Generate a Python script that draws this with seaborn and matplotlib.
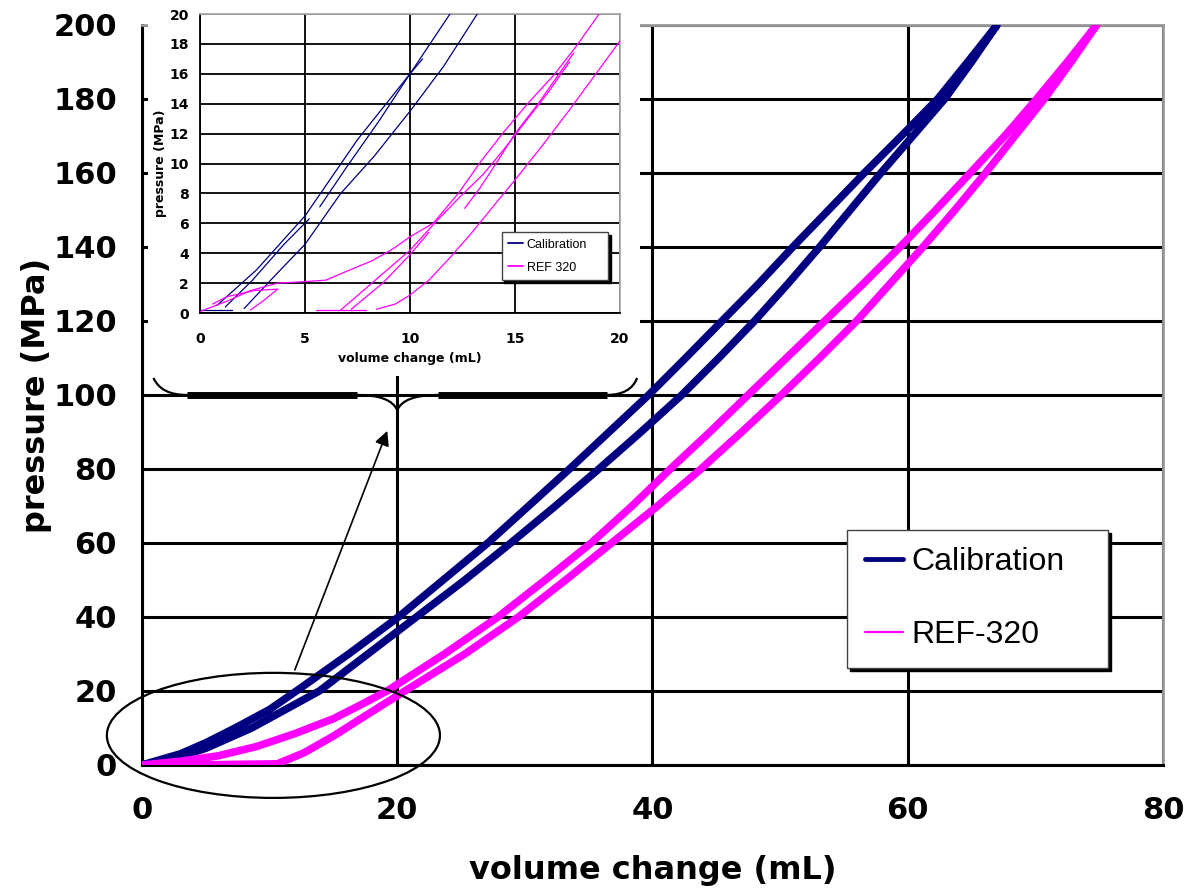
import matplotlib
matplotlib.use("Agg")
import pandas as pd
import matplotlib.pyplot as plt
import seaborn as sns
from matplotlib.patches import Ellipse, Rectangle, PathPatch
from matplotlib.path import Path
from matplotlib.lines import Line2D

# main chart: each loop goes up the loading branch and back down the unloading one
cal_x = [0, 3, 5, 7.3, 10, 12.1, 16.2, 20.1, 23.6, 27.1, 30.3, 33.5, 36.6, 39.7, 42.6, 45.45,
         48.3, 51.0, 53.8, 56.6, 59.5, 62.35, 64.7, 67.0,
         65.0, 62.9, 60.4, 57.9, 55.5, 53.1, 50.6, 48.0, 45.2, 42.3, 39.1, 35.8, 32.4, 28.9,
         25.3, 21.5, 17.7, 13.9, 8.6, 5, 2, 0]
cal_y = [0, 3, 6, 10, 15, 20, 30, 40, 50, 60, 70, 80, 90, 100, 110, 120,
         130, 140, 150, 160, 170, 180, 190, 200,
         190, 180, 170, 160, 150, 140, 130, 120, 110, 100, 90, 80, 70, 60,
         50, 40, 30, 20, 10, 4.5, 1.2, 0]

ref_x = [0, 3, 6, 9, 12, 15, 17, 19.2, 23.7, 27.9, 31.6, 35.2, 38.4, 41.4, 44.5, 47.5,
         50.5, 53.5, 56.5, 59.4, 62.2, 64.9, 67.6, 70.1, 72.5, 74.8,
         72.8, 70.7, 68.4, 66.1, 63.7, 61.2, 58.6, 56.0, 53.1, 50.1, 47.0, 43.8, 40.4, 36.8,
         33.2, 29.5, 25.3, 20.6, 17.6, 15.0, 12.7, 10.6, 8, 4, 0]
ref_y = [0, 1, 2.5, 5, 8.5, 12.5, 16, 20, 30, 40, 50, 60, 70, 80, 90, 100,
         110, 120, 130, 140, 150, 160, 170, 180, 190, 200,
         190, 180, 170, 160, 150, 140, 130, 120, 110, 100, 90, 80, 70, 60,
         50, 40, 30, 20, 13.5, 7.8, 3.3, 0.3, 0.2, 0, 0]

# inset (zoom on 0-20 / 0-20): separate strands
ins_cal = {
    "a": ([0.8, 2.7, 5.0, 7.5, 10.0, 11.9], [0.5, 2.9, 6.5, 11.6, 16.0, 20.0]),
    "b": ([2.1, 3.5, 5.0, 6.7, 8.3, 10.0, 11.6, 13.2], [0.3, 2.4, 4.6, 8.0, 10.5, 13.5, 16.5, 20.0]),
    "c": ([5.7, 7.0, 8.5, 10.0, 10.6], [7.1, 9.8, 12.8, 16.0, 17.0]),
    "d": ([1.2, 2.5, 4.0, 5.2], [0.4, 2.2, 4.6, 6.3]),
    "e": ([0.0, 1.5], [0.2, 0.2]),
}
ins_ref = {
    "m1": ([0.0, 1.3, 2.4, 3.7, 5.0, 6.0, 7.0, 8.2, 9.2, 10.0, 11.1, 12.3, 13.3, 14.4, 15.6, 16.9, 18.0, 19.0],
           [0.1, 0.8, 1.5, 2.0, 2.1, 2.2, 2.8, 3.5, 4.3, 5.1, 6.0, 8.0, 10.0, 12.0, 14.0, 16.0, 18.0, 20.0]),
    "m2": ([17.8, 17.1, 16.1, 15.0, 14.1, 13.3, 12.6], [17.4, 16.0, 14.0, 12.0, 10.0, 8.3, 7.0]),
    "m3": ([6.7, 8.1, 10.0, 11.3, 12.4, 13.5, 14.5, 15.5, 16.6, 17.6],
           [0.2, 1.9, 4.2, 6.2, 7.8, 9.3, 11.0, 12.8, 14.8, 16.8]),
    "m3b": ([7.2, 8.7, 10.0, 10.9], [0.25, 2.0, 3.9, 5.4]),
    "m4": ([8.4, 9.3, 10.0, 10.9, 11.9, 12.9, 14.0, 15.0, 16.3, 17.6, 18.8, 20.0],
           [0.25, 0.6, 1.2, 2.2, 3.7, 5.3, 7.2, 8.9, 11.2, 13.6, 15.9, 18.2]),
    "m5": ([5.5, 7.9], [0.18, 0.18]),
    "m6": ([2.4, 3.0, 3.7, 2.6, 1.3, 0.6], [0.2, 0.8, 1.6, 1.5, 1.1, 0.6]),
}

NAVY = "#000080"
MAGENTA = "#FF00FF"
palette = {"Calibration": NAVY, "REF-320": MAGENTA}


def strands_df(strands, name):
    rows = []
    for key, (xs, ys) in strands.items():
        for x, y in zip(xs, ys):
            rows.append({"x": x, "y": y, "series": name, "strand": name + key})
    return pd.DataFrame(rows)


main_df = pd.concat([
    pd.DataFrame({"x": cal_x, "y": cal_y, "series": "Calibration", "strand": "cal"}),
    pd.DataFrame({"x": ref_x, "y": ref_y, "series": "REF-320", "strand": "ref"}),
])
inset_df = pd.concat([strands_df(ins_cal, "Calibration"), strands_df(ins_ref, "REF-320")])

sns.set_style("white")
plt.rcParams["font.family"] = ["DejaVu Sans"]
plt.rcParams["text.color"] = "black"
plt.rcParams["axes.labelcolor"] = "black"
plt.rcParams["xtick.color"] = "black"
plt.rcParams["ytick.color"] = "black"

fig = plt.figure(figsize=(11.88, 8.92), dpi=100)
ax = fig.add_axes([0.1195, 0.1424, 0.8594, 0.8296])

sns.lineplot(data=main_df, x="x", y="y", hue="series", units="strand", estimator=None,
             sort=False, palette=palette, lw=5.5, legend=False, ax=ax, zorder=3)

ax.set_xlim(0, 80)
ax.set_ylim(0, 200)
ax.set_xticks(range(0, 81, 20))
ax.set_yticks(range(0, 201, 20))
ax.set_axisbelow(True)
ax.grid(True, color="black", lw=2.2)
ax.tick_params(axis="both", direction="out", length=6, width=2, color="black",
               labelsize=22, pad=12)
ax.tick_params(axis="x", pad=16)
for lab in ax.get_xticklabels() + ax.get_yticklabels():
    lab.set_fontweight("bold")
for side in ("left", "bottom"):
    ax.spines[side].set_color("black")
    ax.spines[side].set_linewidth(2.2)
for side in ("top", "right"):
    ax.spines[side].set_color("#999999")
    ax.spines[side].set_linewidth(2)
ax.set_xlabel("volume change (mL)", fontsize=23, fontweight="bold")
ax.set_ylabel("pressure (MPa)", fontsize=23, fontweight="bold")
ax.xaxis.set_label_coords(0.5, -0.122)
ax.yaxis.set_label_coords(-0.088, 0.5)

main_handles = [Line2D([], [], color=NAVY, lw=3.5), Line2D([], [], color=MAGENTA, lw=1.6)]
ax.legend(main_handles, ["Calibration", "REF-320"], loc="lower left",
          bbox_to_anchor=(0.691, 0.131, 0.255, 0.19), mode="expand", borderaxespad=0,
          prop={"family": "Liberation Sans", "size": 23}, frameon=True, fancybox=False,
          shadow={"color": "black", "alpha": 1}, edgecolor="#444444", framealpha=1,
          handlelength=1.2, handletextpad=0.25, labelspacing=1.35, borderpad=0.55)

# ellipse around the low-pressure region, arrow to the brace under the inset
ax.add_patch(Ellipse((10.3, 8.0), 26.1, 33.8, fill=False, edgecolor="black", lw=1.6,
                     clip_on=False, zorder=5))
ax.annotate("", xy=(19.3, 91), xytext=(11.9, 25),
            arrowprops=dict(arrowstyle="-|>", color="black", lw=1.2, mutation_scale=22),
            zorder=5)
brace = Path([(0.9, 104.6), (1.5, 100), (3.5, 100), (16.85, 100), (19.5, 100), (20, 95.9),
              (20.5, 100), (23.2, 100), (36.4, 100), (38.3, 100), (38.8, 104.6)],
             [Path.MOVETO, Path.CURVE3, Path.CURVE3, Path.LINETO, Path.CURVE3, Path.CURVE3,
              Path.CURVE3, Path.CURVE3, Path.LINETO, Path.CURVE3, Path.CURVE3])
ax.add_patch(PathPatch(brace, fill=False, edgecolor="black", lw=1.6, clip_on=False, zorder=5))
for seg in ([(3.5, 100), (16.85, 100)], [(23.2, 100), (36.4, 100)]):
    ax.add_patch(PathPatch(Path(seg), fill=False, edgecolor="black", lw=5, zorder=5,
                           capstyle="butt"))

# inset chart
ins = fig.add_axes([0.1684, 0.6491, 0.3535, 0.3352])
ins.set_zorder(10)
ins.add_patch(Rectangle((148 / 1188, 1 - 376 / 892), 492 / 1188, 376 / 892,
                        transform=fig.transFigure, facecolor="white", edgecolor="none",
                        clip_on=False, zorder=-5))
sns.lineplot(data=inset_df, x="x", y="y", hue="series", units="strand", estimator=None,
             sort=False, palette=palette, lw=0.9, legend=False, ax=ins, zorder=3)
ins.set_xlim(0, 20)
ins.set_ylim(0, 20)
ins.set_xticks(range(0, 21, 5))
ins.set_yticks(range(0, 21, 2))
ins.set_axisbelow(True)
ins.grid(True, color="black", lw=1.3)
ins.tick_params(axis="both", direction="out", length=4, width=1.2, labelsize=10, pad=4)
ins.tick_params(axis="x", pad=10)
for lab in ins.get_xticklabels() + ins.get_yticklabels():
    lab.set_fontweight("bold")
for side in ("left", "bottom"):
    ins.spines[side].set_color("black")
    ins.spines[side].set_linewidth(1.3)
for side in ("top", "right"):
    ins.spines[side].set_color("#aaaaaa")
    ins.spines[side].set_linewidth(1.3)
ins.set_xlabel("volume change (mL)", fontsize=9, fontweight="bold", labelpad=4)
ins.set_ylabel("pressure (MPa)", fontsize=9, fontweight="bold", labelpad=2)

ins_handles = [Line2D([], [], color=NAVY, lw=1.3), Line2D([], [], color=MAGENTA, lw=1.3)]
ins.legend(ins_handles, ["Calibration", "REF 320"], loc="lower left",
           bbox_to_anchor=(0.718, 0.11, 0.254, 0.179), mode="expand", borderaxespad=0,
           prop={"family": "Liberation Sans", "size": 9}, frameon=True, fancybox=False,
           shadow={"color": "black", "alpha": 1}, edgecolor="#444444", framealpha=1,
           handlelength=1.2, handletextpad=0.3, labelspacing=0.9, borderpad=0.5)

fig.savefig("out.png", dpi=100, facecolor="white")
